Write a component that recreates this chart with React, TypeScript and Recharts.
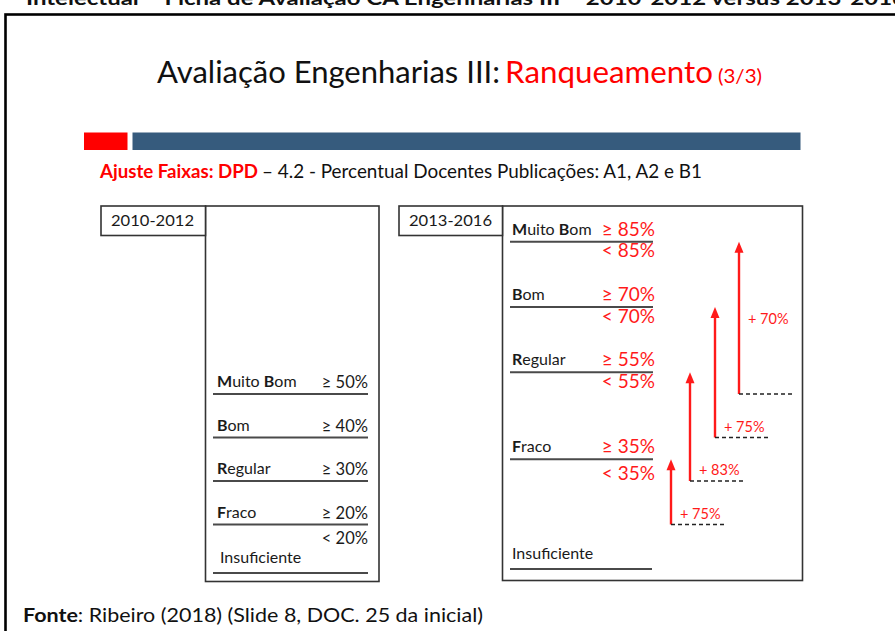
import { ComposedChart, XAxis, YAxis, Scatter, ReferenceLine } from "recharts";

// faixas do quesito 4.2 (DPD) nos dois períodos
const PERIODS = ["2010-2012", "2013-2016"];
const CATEGORIES = ["Muito Bom", "Bom", "Regular", "Fraco"];
const FAIXAS_2010 = [50, 40, 30, 20];
const FAIXAS_2013 = [85, 70, 55, 35];
const AUMENTOS = [70, 75, 83, 75];
const INSUFICIENTE = "Insuficiente";

const W = 895;
const H = 631;
const BODY_FONT = "Lato, 'DejaVu Sans', sans-serif";
const RED = "#ff1a1a";
const INK = "#1a1a1a";
const RULE = "#4a4a4a";

// posições das colunas (layout)
const OLD_X = 213;
const OLD_W = 155;
const NEW_X = 510;
const NEW_W = 143;
const ARROW_X = [739, 715, 690, 671];

const oldRows = CATEGORIES.map((name, i) => ({ x: OLD_X, y: FAIXAS_2010[i], name, i }));
const newRows = CATEGORIES.map((name, i) => ({ x: NEW_X, y: FAIXAS_2013[i], name, i }));

function CatLabel({ x, y, name }: { x: number; y: number; name: string }) {
  const words = name.split(" ");
  return (
    <text x={x} y={y} fontFamily={BODY_FONT} fontSize={16} fill={INK}>
      {words.map((w, k) => (
        <tspan key={k}>
          <tspan fontWeight={700}>{w[0]}</tspan>
          {w.slice(1)}
          {k < words.length - 1 ? " " : ""}
        </tspan>
      ))}
    </text>
  );
}

function OldRow(p: any) {
  const { cx, cy, payload } = p;
  return (
    <g>
      <line x1={cx} x2={cx + OLD_W} y1={cy} y2={cy} stroke={RULE} strokeWidth={1.8} />
      <CatLabel x={cx + 4} y={cy - 7} name={payload.name} />
      <text x={cx + OLD_W} y={cy - 6} textAnchor="end" fontFamily={BODY_FONT} fontSize={16.5} fill={INK}>
        {"≥ " + payload.y + "%"}
      </text>
      {payload.i === CATEGORIES.length - 1 && (
        <text x={cx + OLD_W} y={cy + 19} textAnchor="end" fontFamily={BODY_FONT} fontSize={16.5} fill={INK}>
          {"< " + payload.y + "%"}
        </text>
      )}
    </g>
  );
}

function NewRow(p: any) {
  const { cx, cy, payload } = p;
  const below = payload.i === CATEGORIES.length - 1 ? 21 : 15.5;
  return (
    <g>
      <line x1={cx} x2={cx + NEW_W} y1={cy} y2={cy} stroke={RULE} strokeWidth={1.8} />
      <CatLabel x={cx + 2} y={cy - 7} name={payload.name} />
      <text x={cx + NEW_W + 2} y={cy - 6} textAnchor="end" fontFamily={BODY_FONT} fontSize={19} fill={RED}>
        {"≥ " + payload.y + "%"}
      </text>
      <text x={cx + NEW_W + 2} y={cy + below} textAnchor="end" fontFamily={BODY_FONT} fontSize={19} fill={RED}>
        {"< " + payload.y + "%"}
      </text>
    </g>
  );
}

function Arrow(p: any) {
  const { x1, y1, x2, y2, label, mid } = p;
  const x = x1;
  const top = Math.min(y1, y2);
  const base = Math.max(y1, y2);
  const ty = mid ? (top + base) / 2 + 6 : base - 6;
  return (
    <g>
      <line x1={x} x2={x} y1={base} y2={top + 8} stroke={RED} strokeWidth={2.4} />
      <polygon points={`${x},${top} ${x - 4.5},${top + 11} ${x + 4.5},${top + 11}`} fill={RED} />
      <line x1={x} x2={x + 56} y1={base} y2={base} stroke="#222" strokeWidth={1.4} strokeDasharray="4 3" />
      <text x={x + 9} y={ty} fontFamily={BODY_FONT} fontSize={14.5} fill={RED}>
        {label}
      </text>
    </g>
  );
}

function Backdrop() {
  return (
    <svg width={W} height={H} style={{ position: "absolute", left: 0, top: 0 }}>
      <rect x={0} y={0} width={W} height={H} fill="#fff" />
      <text x={26} y={5} fontFamily="Lato, sans-serif" fontWeight={700} fontSize={19} fill="#111" textLength={880} lengthAdjust="spacingAndGlyphs">
        Intelectual – Ficha de Avaliação CA Engenharias III – 2010-2012 versus 2013-2016
      </text>
      <rect x={5.5} y={14.5} width={1000} height={1000} fill="none" stroke="#000" strokeWidth={2.6} />

      <text x={157} y={83} fontFamily="Lato, sans-serif" fontSize={30} fill="#111" textLength={343} lengthAdjust="spacingAndGlyphs">
        Avaliação Engenharias III:
      </text>
      <text x={505} y={83} fontFamily="Lato, sans-serif" fontSize={30} fill="#ff0000" textLength={208} lengthAdjust="spacingAndGlyphs">
        Ranqueamento
      </text>
      <text x={718} y={83} fontFamily="Lato, sans-serif" fontSize={19} fill="#ff0000" textLength={44} lengthAdjust="spacingAndGlyphs">
        (3/3)
      </text>

      <rect x={84} y={132.5} width={43.5} height={17.5} fill="#ff0000" />
      <rect x={132.5} y={132.5} width={668} height={17.5} fill="#365b7d" />

      <text x={100} y={178} fontFamily="Lato, sans-serif" fontWeight={700} fontSize={19} fill="#ff0000" textLength={158} lengthAdjust="spacingAndGlyphs">
        Ajuste Faixas: DPD
      </text>
      <text x={262} y={178} fontFamily="Lato, sans-serif" fontSize={19} fill="#111" textLength={440} lengthAdjust="spacingAndGlyphs">
        – 4.2 - Percentual Docentes Publicações: A1, A2 e B1
      </text>

      {/* 2010-2012 */}
      <rect x={205.5} y={206} width={173.5} height={375.5} fill="none" stroke="#333" strokeWidth={1.6} />
      <rect x={101} y={206} width={104.5} height={29.5} fill="#fff" stroke="#333" strokeWidth={1.6} />
      <text x={111} y={226} fontFamily={BODY_FONT} fontSize={16} fill={INK} textLength={83} lengthAdjust="spacingAndGlyphs">
        {PERIODS[0]}
      </text>
      <text x={220} y={563} fontFamily={BODY_FONT} fontSize={16} fill={INK}>
        {INSUFICIENTE}
      </text>
      <line x1={OLD_X} x2={OLD_X + OLD_W} y1={573} y2={573} stroke={RULE} strokeWidth={1.8} />

      {/* 2013-2016 */}
      <rect x={502.5} y={206} width={300} height={374.5} fill="none" stroke="#333" strokeWidth={1.6} />
      <rect x={399} y={206} width={103.5} height={29.5} fill="#fff" stroke="#333" strokeWidth={1.6} />
      <text x={409} y={226} fontFamily={BODY_FONT} fontSize={16} fill={INK} textLength={83} lengthAdjust="spacingAndGlyphs">
        {PERIODS[1]}
      </text>
      <text x={512} y={559} fontFamily={BODY_FONT} fontSize={16} fill={INK}>
        {INSUFICIENTE}
      </text>
      <line x1={NEW_X} x2={NEW_X + NEW_W - 1} y1={569} y2={569} stroke={RULE} strokeWidth={1.8} />

      <text x={23} y={622} fontFamily="Lato, sans-serif" fontSize={19} fill="#111" textLength={460} lengthAdjust="spacingAndGlyphs">
        <tspan fontWeight={700}>Fonte</tspan>: Ribeiro (2018) (Slide 8, DOC. 25 da inicial)
      </text>
    </svg>
  );
}

export default function App() {
  return (
    <div style={{ position: "absolute", left: 0, top: 0, width: W, height: H, overflow: "hidden", background: "#fff" }}>
      <Backdrop />
      <div style={{ position: "absolute", left: 0, top: 0 }}>
        <ComposedChart width={W} height={H} margin={{ top: 176.5, right: 0, bottom: 19.5, left: 0 }}>
          <XAxis type="number" dataKey="x" domain={[0, W]} hide allowDataOverflow />
          <YAxis type="number" dataKey="y" domain={[0, 100]} hide allowDataOverflow />
          <Scatter data={oldRows} dataKey="y" shape={OldRow} isAnimationActive={false} />
          <Scatter data={newRows} dataKey="y" shape={NewRow} isAnimationActive={false} />
          {CATEGORIES.map((name, i) => (
            <ReferenceLine
              key={name}
              segment={[
                { x: ARROW_X[i], y: FAIXAS_2010[i] },
                { x: ARROW_X[i], y: FAIXAS_2013[i] },
              ]}
              shape={(p: any) => <Arrow {...p} label={`+ ${AUMENTOS[i]}%`} mid={i === 0} />}
            />
          ))}
        </ComposedChart>
      </div>
    </div>
  );
}
